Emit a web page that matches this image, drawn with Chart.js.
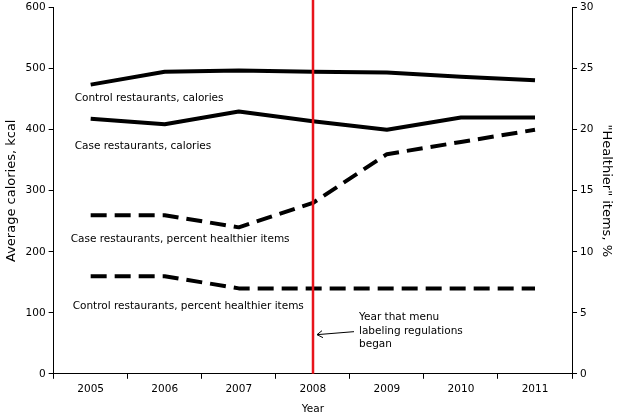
<!DOCTYPE html>
<html>
<head>
<meta charset="utf-8">
<script src="https://cdn.jsdelivr.net/npm/chart.js@4"></script>
<style>
  html, body { margin: 0; padding: 0; background: #fff; }
  #wrap { width: 620px; height: 417px; position: relative; }
</style>
</head>
<body>
<div id="wrap"><canvas id="grafico"></canvas></div>
<script>
const years = ["2005", "2006", "2007", "2008", "2009", "2010", "2011"];
const controlCalories = [474, 495, 497, 495, 494, 487, 481];
const caseCalories = [418, 409, 430, 414, 400, 420, 420];
const casePercent = [13, 13, 12, 14, 18, 19, 20];
const controlPercent = [8, 8, 7, 7, 7, 7, 7];
const regulationYear = "2008";

// etiquetas de texto dentro del grafico (valor en kcal para la altura)
const seriesLabels = [
  { text: "Control restaurants, calories", kcal: 451, dx: 21 },
  { text: "Case restaurants, calories", kcal: 373, dx: 21 },
  { text: "Case restaurants, percent healthier items", kcal: 221, dx: 17 },
  { text: "Control restaurants, percent healthier items", kcal: 110, dx: 19 },
];
const noteLines = ["Year that menu", "labeling regulations", "began"];

const font = "DejaVu Sans";

const annotations = {
  id: "annotations",
  afterDatasetsDraw(chart) {
    const { ctx, chartArea, scales } = chart;
    const x = scales.x;
    const y = scales.y;
    ctx.save();

    // linea roja del año de la regulacion
    const rx = Math.round(x.getPixelForValue(years.indexOf(regulationYear)));
    ctx.strokeStyle = "#e8141b";
    ctx.lineWidth = 2.5;
    ctx.beginPath();
    ctx.moveTo(rx, 0);
    ctx.lineTo(rx, chartArea.bottom);
    ctx.stroke();

    ctx.fillStyle = "#000";
    ctx.font = "10.5px '" + font + "'";
    ctx.textBaseline = "middle";
    ctx.textAlign = "left";
    seriesLabels.forEach((l) => {
      ctx.fillText(l.text, chartArea.left + l.dx, y.getPixelForValue(l.kcal));
    });

    // nota con flecha
    const ny = y.getPixelForValue(92);
    noteLines.forEach((t, i) => {
      ctx.fillText(t, rx + 46, ny + i * 13.5);
    });
    const ay = ny + 14;
    ctx.strokeStyle = "#000";
    ctx.lineWidth = 1;
    ctx.beginPath();
    ctx.moveTo(rx + 41, ay);
    ctx.lineTo(rx + 4, ay + 3);
    ctx.moveTo(rx + 9, ay - 1);
    ctx.lineTo(rx + 4, ay + 3);
    ctx.lineTo(rx + 10, ay + 6);
    ctx.stroke();
    ctx.restore();
  },
};

const lineStyle = {
  borderColor: "#000",
  backgroundColor: "#000",
  borderWidth: 4,
  pointRadius: 0,
  tension: 0,
  fill: false,
  borderCapStyle: "butt",
  borderJoinStyle: "round",
};

const tickFont = { family: font, size: 10.5 };
const yTickFont = { family: font, size: 10.5, lineHeight: 0.9 };

const ctx = document.getElementById("grafico").getContext("2d");
const grafico = new Chart(ctx, {
  type: "line",
  data: {
    labels: years,
    datasets: [
      { ...lineStyle, label: "Control restaurants, calories", data: controlCalories, yAxisID: "y" },
      { ...lineStyle, label: "Case restaurants, calories", data: caseCalories, yAxisID: "y" },
      { ...lineStyle, label: "Case restaurants, percent healthier items", data: casePercent, yAxisID: "y1", borderDash: [16, 8] },
      { ...lineStyle, label: "Control restaurants, percent healthier items", data: controlPercent, yAxisID: "y1", borderDash: [16, 8] },
    ],
  },
  options: {
    responsive: true,
    maintainAspectRatio: false,
    animation: false,
    layout: { padding: { top: 0, right: 4, left: 1, bottom: 1 } },
    plugins: {
      legend: { display: false },
      tooltip: { enabled: false },
    },
    scales: {
      x: {
        type: "category",
        offset: true,
        grid: { offset: true, drawOnChartArea: false, drawTicks: true, tickLength: 5, color: "#000" },
        border: { color: "#000", width: 1 },
        ticks: { color: "#000", font: tickFont, padding: 4, maxRotation: 0 },
        title: { display: true, text: "Year", color: "#000", font: tickFont, padding: { top: 4, bottom: 0 } },
      },
      y: {
        position: "left",
        min: 0,
        max: 600,
        grid: { drawOnChartArea: false, drawTicks: true, tickLength: 5, color: "#000" },
        border: { color: "#000", width: 1 },
        ticks: { stepSize: 100, color: "#000", font: yTickFont, padding: 3 },
        title: { display: true, text: "Average calories, kcal", color: "#000", font: { family: font, size: 13 }, padding: 3 },
      },
      y1: {
        position: "right",
        min: 0,
        max: 30,
        grid: { drawOnChartArea: false, drawTicks: true, tickLength: 5, color: "#000" },
        border: { color: "#000", width: 1 },
        ticks: { stepSize: 5, color: "#000", font: yTickFont, padding: 3 },
        title: { display: true, text: "\"Healthier\" items, %", color: "#000", font: { family: font, size: 13 }, padding: 2 },
      },
    },
  },
  plugins: [annotations],
});
</script>
</body>
</html>
